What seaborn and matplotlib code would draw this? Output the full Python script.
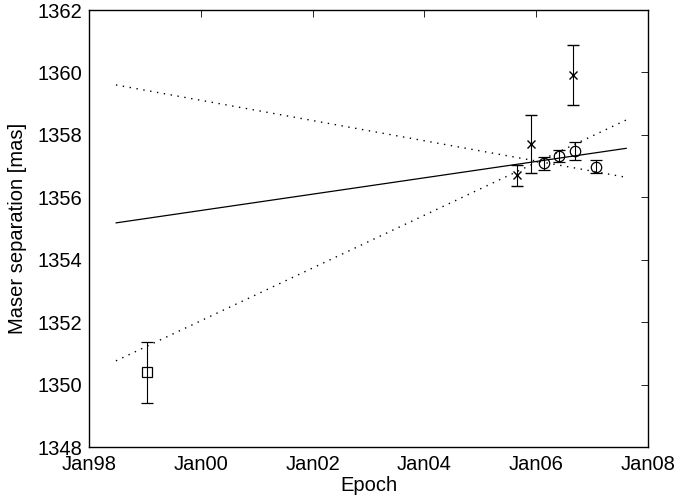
import numpy as np
import pandas as pd
import matplotlib
matplotlib.use("Agg")
import matplotlib.pyplot as plt
import matplotlib.dates as mdates
import seaborn as sns

# ---- data ----
sq_dates = ["1999-01-10"]
sq_vals = [1350.39]
sq_err = [0.99]

x_dates = ["2005-09-01", "2005-11-27", "2006-08-28"]
x_vals = [1356.70, 1357.71, 1359.92]
x_err = [0.34, 0.93, 0.95]

o_dates = ["2006-02-22", "2006-05-29", "2006-09-10", "2007-01-27"]
o_vals = [1357.09, 1357.33, 1357.48, 1356.98]
o_err = [0.20, 0.20, 0.30, 0.20]

fit_dates = ["1998-06-23", "2007-08-15"]
fit_vals = [1355.18, 1357.57]
fit_upper = [1359.60, 1356.64]
fit_lower = [1350.76, 1358.48]

tick_years = ["1998", "2000", "2002", "2004", "2006", "2008"]

sns.set_style("white")
plt.rcParams["font.family"] = ["Liberation Sans", "DejaVu Sans"]
plt.rcParams["text.color"] = "black"
plt.rcParams["axes.labelcolor"] = "black"

fig = plt.figure(figsize=(6.79, 4.99), dpi=100)
ax = fig.add_axes([0.1318, 0.1042, 0.8220, 0.8757])

fit_df = pd.DataFrame({
    "date": pd.to_datetime(fit_dates),
    "fit": fit_vals,
    "upper": fit_upper,
    "lower": fit_lower,
})
sns.lineplot(data=fit_df, x="date", y="fit", ax=ax, color="black", lw=0.9)
sns.lineplot(data=fit_df, x="date", y="upper", ax=ax, color="black", lw=1.0,
             linestyle=(0, (1, 4)))
sns.lineplot(data=fit_df, x="date", y="lower", ax=ax, color="black", lw=1.0,
             linestyle=(0, (1, 4)))

ekw = dict(color="black", ecolor="black", elinewidth=0.8, capsize=4.5,
           capthick=0.8, linestyle="none")
ax.errorbar(pd.to_datetime(sq_dates), sq_vals, yerr=sq_err, marker="s",
            markersize=6.5, mfc="none", mec="black", mew=0.9, **ekw)
ax.errorbar(pd.to_datetime(x_dates), x_vals, yerr=x_err, marker="x",
            markersize=5.5, mec="black", mew=1.0, **ekw)
ax.errorbar(pd.to_datetime(o_dates), o_vals, yerr=o_err, marker="o",
            markersize=7.5, mfc="none", mec="black", mew=0.9, **ekw)

ax.set_xlim(pd.Timestamp("1998-01-01"), pd.Timestamp("2008-01-01"))
ax.set_ylim(1348, 1362)
ax.set_xticks(pd.to_datetime([y + "-01-01" for y in tick_years]))
ax.xaxis.set_major_formatter(mdates.DateFormatter("%b%y"))
ax.set_yticks(np.arange(1348, 1363, 2))

ax.tick_params(direction="in", length=5, width=0.6, labelsize=14.5,
               top=True, right=True, colors="black", labelcolor="black")
ax.tick_params(axis="x", pad=6)
ax.tick_params(axis="y", pad=5)
for s in ax.spines.values():
    s.set_visible(True)
    s.set_color("black")
    s.set_linewidth(1.0)

ax.set_xlabel("Epoch", fontsize=14.5, labelpad=1, color="black")
ax.set_ylabel("Maser separation [mas]", fontsize=14.5, labelpad=8,
              color="black")

fig.savefig("out.png", dpi=100)
